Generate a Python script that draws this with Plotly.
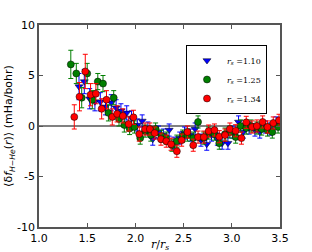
import plotly.graph_objects as go

# r_s = 1.10 (blue, triangle-down)
x_110 = [1.415, 1.47, 1.526, 1.58, 1.636, 1.69, 1.75, 1.80, 1.85, 1.91, 1.96,
         2.02, 2.07, 2.13, 2.18, 2.24, 2.29, 2.35, 2.40, 2.46, 2.51, 2.57, 2.62,
         2.68, 2.74, 2.79, 2.85, 2.90, 2.96, 3.01, 3.07, 3.12, 3.18, 3.24, 3.29,
         3.35, 3.40, 3.46]
y_110 = [3.9, 4.4, 2.7, 2.4, 2.4, 1.9, 2.3, 1.8, 1.5, 1.3, 0.8,
         0.1, 0.5, -0.2, -1.3, -0.6, -0.9, -0.4, -1.7, -1.2, -0.7, -0.9, -0.3,
         -1.4, -1.8, -0.9, -1.3, -1.7, -1.7, -0.6, 0.4, -0.6, -0.2, -0.4, -0.6,
         -0.1, -0.3, 0.3]
e_110 = [1.3, 1.2, 1.0, 0.9, 0.9, 0.8, 0.8, 0.8, 0.7, 0.7, 0.7,
         0.6, 0.6, 0.6, 0.6, 0.6, 0.6, 0.6, 0.6, 0.6, 0.6, 0.6, 0.6,
         0.6, 0.6, 0.6, 0.6, 0.6, 0.6, 0.6, 0.6, 0.6, 0.6, 0.6, 0.6,
         0.6, 0.6, 0.6]

# r_s = 1.25 (green, circle)
x_125 = [1.33, 1.387, 1.443, 1.50, 1.553, 1.61, 1.664, 1.72, 1.775, 1.83, 1.885,
         1.94, 1.99, 2.05, 2.10, 2.16, 2.21, 2.27, 2.32, 2.38, 2.43, 2.49, 2.54,
         2.60, 2.65, 2.71, 2.76, 2.82, 2.87, 2.93, 2.98, 3.04, 3.09, 3.15, 3.20,
         3.26, 3.31, 3.37, 3.42, 3.48]
y_125 = [6.1, 5.2, 2.8, 5.2, 2.6, 4.4, 4.2, 1.3, 2.8, 0.7, 0.1,
         -0.25, -0.1, -1.2, -0.5, -0.9, -0.3, -1.0, -1.2, -1.9, -1.5, -1.0, -0.9,
         -1.2, 0.4, -1.2, -0.7, -0.8, -1.7, -0.8, -0.6, -1.1, 0.0, -0.2, 0.0,
         -0.2, -0.3, -0.4, -0.6, -0.1]
e_125 = [1.4, 1.0, 1.0, 1.0, 0.9, 0.8, 0.8, 0.8, 0.7, 0.7, 0.7,
         0.6, 0.6, 0.6, 0.6, 0.6, 0.6, 0.6, 0.6, 0.6, 0.6, 0.6, 0.6,
         0.6, 0.6, 0.6, 0.6, 0.6, 0.6, 0.6, 0.6, 0.6, 0.6, 0.6, 0.6,
         0.6, 0.6, 0.6, 0.6, 0.6]

# r_s = 1.34 (red, circle)
x_134 = [1.366, 1.42, 1.48, 1.535, 1.59, 1.65, 1.70, 1.76, 1.81, 1.87, 1.93,
         1.98, 2.04, 2.10, 2.15, 2.20, 2.265, 2.32, 2.37, 2.43, 2.48, 2.54, 2.60,
         2.65, 2.71, 2.76, 2.82, 2.87, 2.93, 2.98, 3.04, 3.10, 3.15, 3.21, 3.26,
         3.32, 3.37, 3.43, 3.49]
y_134 = [0.9, 2.9, 5.4, 3.1, 3.2, 1.7, 2.6, 0.9, 1.2, 1.0, 0.2,
         0.86, -0.8, -0.3, -0.3, -0.7, -1.3, -1.5, -1.8, -2.5, -1.4, -0.6, -1.9,
         -1.1, -1.1, -0.5, -0.4, -1.06, -0.9, -0.3, -0.47, -1.2, 0.36, -0.1, 0.0,
         0.4, -0.1, 0.3, 0.56]
e_134 = [1.2, 1.4, 1.7, 1.1, 1.0, 1.0, 0.9, 0.8, 0.8, 0.7, 0.7,
         0.7, 0.7, 0.6, 0.6, 0.6, 0.6, 0.6, 0.6, 0.6, 0.6, 0.6, 0.6,
         0.6, 0.6, 0.6, 0.6, 0.6, 0.6, 0.6, 0.6, 0.6, 0.6, 0.6, 0.6,
         0.6, 0.6, 0.6, 0.6]

x_ticks = [1.0, 1.5, 2.0, 2.5, 3.0, 3.5]
y_ticks = [-10, -5, 0, 5, 10]

series = [
    ("<i>r<sub>s</sub></i> =1.10", x_110, y_110, e_110, "#0000ff", "triangle-down"),
    ("<i>r<sub>s</sub></i> =1.25", x_125, y_125, e_125, "#007f00", "circle"),
    ("<i>r<sub>s</sub></i> =1.34", x_134, y_134, e_134, "#ff0000", "circle"),
]

fig = go.Figure()
fig.add_shape(type="line", xref="paper", x0=0, x1=1, yref="y", y0=0, y1=0,
              line=dict(color="#808080", width=2), layer="below")
for name, xs, ys, es, col, sym in series:
    fig.add_trace(go.Scatter(
        x=xs, y=ys, mode="markers", name=name,
        marker=dict(symbol=sym, size=7, color=col, line=dict(color="black", width=0.5)),
        error_y=dict(type="data", array=es, color=col, thickness=1, width=2.5),
    ))

axis_common = dict(
    showgrid=False, zeroline=False, ticks="inside", ticklen=4, tickwidth=1,
    tickcolor="#555", showline=True, linecolor="#555", linewidth=1.5,
    mirror="allticks", automargin=False,
    tickfont=dict(family="DejaVu Sans", size=11, color="black"),
)
fig.update_layout(
    width=312, height=252,
    margin=dict(l=39, r=32, t=25, b=25),
    paper_bgcolor="white", plot_bgcolor="white",
    xaxis=dict(range=[1.0, 3.5], tickvals=x_ticks,
               ticktext=[f"{v:.1f}" for v in x_ticks],
               **axis_common),
    yaxis=dict(range=[-10, 10], tickvals=y_ticks,
               ticktext=[str(v) for v in y_ticks],
               title=dict(text="⟨δ<i>f</i><sub><i>H−He</i></sub>(<i>r</i>)⟩ (mHa/bohr)", standoff=2,
                          font=dict(family="DejaVu Sans", size=11, color="black")),
               **axis_common),
    annotations=[dict(text="<i>r</i>/<i>r<sub>s</sub></i>", xref="paper", yref="paper",
                      x=0.5, y=-0.087, xanchor="center", yanchor="middle", showarrow=False,
                      font=dict(family="DejaVu Serif", size=11, color="black"))],
    showlegend=True,
    legend=dict(x=0.946, y=0.901, xanchor="right", yanchor="top",
                bgcolor="white", bordercolor="black", borderwidth=1,
                font=dict(family="DejaVu Serif", size=8, color="black"),
                itemwidth=30, tracegroupgap=0),
)
fig.write_html("out.html", config={"displayModeBar": False},
               post_script="document.body.style.margin='0';document.body.style.overflow='hidden';")
